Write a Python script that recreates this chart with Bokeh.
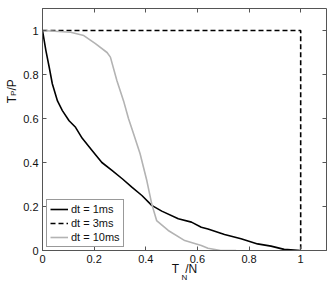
from math import pi
from bokeh.plotting import figure
from bokeh.layouts import row
from bokeh.models import (Range1d, LinearAxis, FixedTicker, Legend, LegendItem, Label,
                          CustomLabelingPolicy)
from bokeh.embed import file_html
from bokeh.resources import INLINE

# ---- data ----
x_1ms = [0.0, 0.013, 0.026, 0.038, 0.058, 0.077, 0.103, 0.128, 0.154, 0.192, 0.23,
         0.269, 0.31, 0.346, 0.385, 0.423, 0.462, 0.526, 0.577, 0.615, 0.641, 0.705,
         0.769, 0.833, 0.885, 0.936, 1.0]
y_1ms = [1.0, 0.91, 0.833, 0.758, 0.68, 0.636, 0.59, 0.56, 0.51, 0.455, 0.40,
         0.364, 0.325, 0.288, 0.25, 0.205, 0.179, 0.144, 0.129, 0.106, 0.098, 0.073,
         0.053, 0.030, 0.020, 0.005, 0.0]

x_3ms = [0.0, 1.0, 1.0]
y_3ms = [1.0, 1.0, 0.0]

x_10ms = [0.0, 0.109, 0.16, 0.205, 0.25, 0.263, 0.288, 0.314, 0.333, 0.353, 0.378,
          0.404, 0.423, 0.442, 0.487, 0.551, 0.615, 0.641, 0.69, 0.75]
y_10ms = [1.0, 0.992, 0.977, 0.94, 0.90, 0.879, 0.773, 0.68, 0.60, 0.53, 0.44,
          0.318, 0.212, 0.136, 0.091, 0.045, 0.023, 0.01, 0.0, 0.0]

series_labels = ["dt = 1ms", "dt = 3ms", "dt = 10ms"]

tick_values = [0, 0.2, 0.4, 0.6, 0.8, 1]
tick_labels = ["0", "0.2", "0.4", "0.6", "0.8", "1"]

# axis titles split into main part and subscript
x_title_main, x_title_sub = "T\u2002/N", "N"
y_title = ("T", "P", "/P")

FONT = "Liberation Sans"
AX = "#555555"
TXT = "#111111"

# ---------------- main plot ----------------
p = figure(width=311, height=284, output_backend="svg", toolbar_location=None,
           x_range=Range1d(0, 1.1), y_range=Range1d(0, 1.1),
           min_border_left=20, min_border_right=5, min_border_top=8, min_border_bottom=34,
           x_axis_location=None, y_axis_location=None)
p.grid.visible = False
p.outline_line_color = AX
p.outline_line_width = 1
p.background_fill_color = "white"
p.border_fill_color = "white"

overrides = {v: s for v, s in zip(tick_values, tick_labels)}


def tick_axis(show_labels):
    ax = LinearAxis(ticker=FixedTicker(ticks=tick_values, minor_ticks=[]))
    ax.major_tick_in = 4
    ax.major_tick_out = 0
    ax.major_tick_line_color = AX
    ax.minor_tick_line_color = None
    ax.axis_line_color = AX
    ax.major_label_text_font = FONT
    ax.major_label_text_color = TXT
    ax.axis_label_text_font = FONT
    ax.axis_label_text_font_style = "normal"
    ax.axis_label_text_color = TXT
    if show_labels:
        ax.major_label_overrides = overrides
        ax.major_label_text_font_size = "11px"
        ax.major_label_standoff = 4
    else:
        ax.major_label_text_font_size = "0px"
        ax.major_label_standoff = 0
        ax.major_label_policy = CustomLabelingPolicy(code="return []")
        ax.axis_line_color = None
    return ax


def title_axis(text, size, standoff):
    ax = LinearAxis(ticker=FixedTicker(ticks=[], minor_ticks=[]))
    ax.axis_line_color = None
    ax.major_tick_line_color = None
    ax.minor_tick_line_color = None
    ax.major_tick_in = 0
    ax.major_tick_out = 0
    ax.major_label_standoff = 0
    ax.major_label_text_font_size = "0px"
    ax.axis_label = text
    ax.axis_label_text_font = FONT
    ax.axis_label_text_font_size = size
    ax.axis_label_text_font_style = "normal"
    ax.axis_label_text_color = TXT
    ax.axis_label_standoff = standoff
    return ax


xb = tick_axis(True)
xb.axis_label = x_title_main
xb.axis_label_text_font_size = "12px"
xb.axis_label_standoff = -4
p.add_layout(xb, "below")
p.add_layout(title_axis(x_title_sub, "8px", -6), "below")
p.add_layout(tick_axis(True), "left")
p.add_layout(tick_axis(False), "above")
p.add_layout(tick_axis(False), "right")

r1 = p.line(x_1ms, y_1ms, line_color="black", line_width=1.6)
r3 = p.line(x_3ms, y_3ms, line_color="black", line_width=1.6, line_dash="5 3")
r10 = p.line(x_10ms, y_10ms, line_color="#b3b3b3", line_width=1.6)

legend = Legend(items=[LegendItem(label=series_labels[0], renderers=[r1]),
                       LegendItem(label=series_labels[1], renderers=[r3]),
                       LegendItem(label=series_labels[2], renderers=[r10])],
                location=(4, 3), orientation="vertical")
legend.border_line_color = "#333333"
legend.border_line_width = 1
legend.background_fill_color = "white"
legend.background_fill_alpha = 1
legend.padding = 3
legend.spacing = 2
legend.margin = 0
legend.glyph_width = 18
legend.glyph_height = 12
legend.label_height = 12
legend.label_standoff = 3
legend.label_text_font = FONT
legend.label_text_font_size = "11px"
legend.label_text_color = TXT
p.add_layout(legend, "center")

# ---------------- y title strip ----------------
yfig = figure(width=20, height=284, output_backend="svg", toolbar_location=None,
              x_range=Range1d(0, 1), y_range=Range1d(0, 1),
              min_border=0, min_border_left=0, min_border_right=0,
              min_border_top=0, min_border_bottom=0,
              x_axis_location=None, y_axis_location=None)
yfig.grid.visible = False
yfig.outline_line_color = None
yfig.background_fill_color = "white"
yfig.border_fill_color = "white"


def lab(f, x, y, t, size, angle=0.0):
    f.add_layout(Label(x=x, y=y, x_units="screen", y_units="screen", text=t,
                       angle=angle, text_font=FONT, text_font_size=size,
                       text_color=TXT, text_align="left", text_baseline="alphabetic"))


lab(yfig, 11.5, 147.3, y_title[0], "12px", pi / 2)
lab(yfig, 12.5, 154.6, y_title[1], "8px", pi / 2)
lab(yfig, 11.5, 159.9, y_title[2], "12px", pi / 2)

layout = row(yfig, p, spacing=0)

open("out.html", "w").write(file_html(layout, INLINE))
